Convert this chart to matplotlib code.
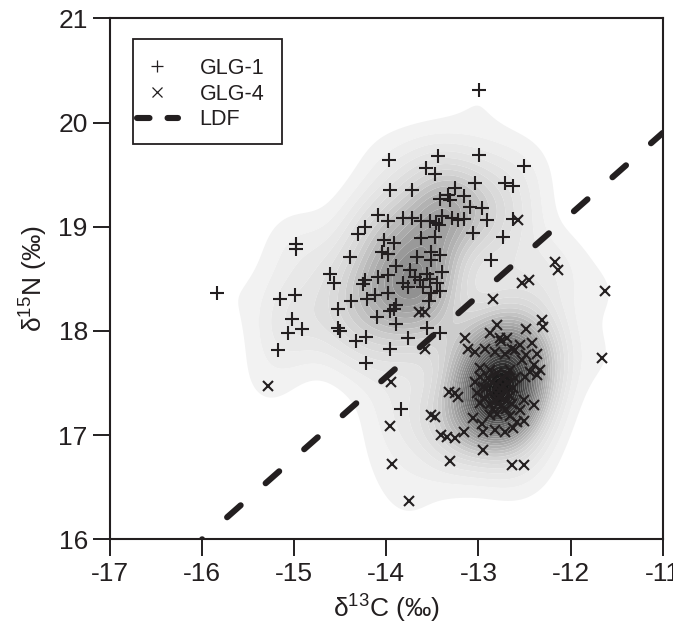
import numpy as np
import matplotlib
matplotlib.use("Agg")
import matplotlib.pyplot as plt
from matplotlib.lines import Line2D
from matplotlib.patches import Rectangle
from matplotlib.colors import LinearSegmentedColormap

plt.rcParams['font.family'] = ['Liberation Sans', 'DejaVu Sans']
plt.rcParams['mathtext.fontset'] = 'custom'
plt.rcParams['mathtext.rm'] = 'Liberation Sans'
plt.rcParams['lines.scale_dashes'] = False

# ---------------- data ----------------
glg1_x = [-12.99, -12.99, -13.97, -13.44, -13.57, -13.47, -12.51, -12.71, -12.63, -13.96,
          -13.72, -13.25, -13.04, -13.33, -13.31, -13.42, -13.16, -13.09, -12.96, -14.09,
          -13.98, -13.82, -13.72, -13.62, -13.53, -13.46, -13.43, -13.40, -13.29, -13.22,
          -13.16, -12.91, -13.06, -14.23, -13.62, -13.47, -14.03, -13.92, -13.98, -14.05,
          -13.67, -13.51, -13.42, -13.51, -13.89, -14.23, -14.09, -13.98, -13.74, -13.69,
          -13.56, -13.53, -13.40, -13.63, -13.82, -13.76, -13.60, -13.45, -13.42, -14.21,
          -14.12, -13.98, -13.89, -12.63, -12.73, -12.86, -14.31, -14.98, -14.98, -14.61,
          -14.57, -14.39, -15.15, -14.99, -15.84, -14.52, -14.52, -14.50, -15.02, -15.07,
          -14.92, -15.18, -14.33, -14.22, -13.96, -13.76, -14.22, -13.56, -13.42, -13.84,
          -14.38, -14.10, -13.90, -13.92, -13.96, -13.54, -13.52, -14.25]
glg1_y = [20.31, 19.69, 19.64, 19.68, 19.56, 19.51, 19.58, 19.42, 19.39, 19.35,
          19.35, 19.37, 19.42, 19.30, 19.26, 19.27, 19.29, 19.19, 19.18, 19.11,
          19.05, 19.08, 19.08, 19.05, 19.05, 19.04, 19.02, 19.10, 19.08, 19.06,
          19.07, 19.06, 18.94, 19.00, 18.89, 18.90, 18.87, 18.84, 18.74, 18.76,
          18.71, 18.76, 18.73, 18.68, 18.62, 18.49, 18.52, 18.54, 18.58, 18.52,
          18.55, 18.50, 18.57, 18.49, 18.46, 18.42, 18.42, 18.46, 18.38, 18.31,
          18.34, 18.36, 18.25, 19.07, 18.90, 18.68, 18.93, 18.83, 18.79, 18.55,
          18.46, 18.71, 18.31, 18.34, 18.36, 18.21, 18.03, 18.00, 18.11, 17.98,
          18.02, 17.82, 17.90, 17.94, 17.83, 17.93, 17.69, 18.03, 17.98, 17.25,
          18.29, 18.13, 18.07, 18.21, 18.19, 18.29, 18.36, 18.45]

glg4_x = [-15.29, -13.95, -13.96, -13.94, -13.75, -13.52, -13.47, -13.41, -13.34, -13.25,
          -13.32, -13.26, -13.22, -13.31, -13.16, -12.95, -12.64, -12.51, -12.84, -12.53,
          -12.45, -12.17, -12.14, -12.57, -11.63, -11.66, -12.31, -12.30, -12.48, -13.65,
          -13.58, -13.58, -13.15, -13.11, -13.04, -12.80, -12.87, -12.77, -12.93, -12.69,
          -12.60, -12.42, -12.37, -12.75, -12.82, -12.71, -12.64, -12.55, -12.48, -12.53,
          -12.40, -12.33, -12.37, -12.44, -12.49, -12.98, -13.04, -12.98, -12.87, -12.95,
          -13.02, -12.98, -12.40, -12.51, -12.55, -13.06, -12.96, -12.87, -12.66, -12.58,
          -12.51, -12.95, -12.82, -12.71, -12.62,
          -12.90, -12.85, -12.80, -12.75, -12.70, -12.78, -12.72, -12.82, -12.86, -12.68,
          -12.74, -12.80, -12.66, -12.76, -12.70, -12.84, -12.62, -12.92, -12.88, -12.64,
          -12.78, -12.73, -12.77, -12.69, -12.60, -12.94, -12.80, -12.66]
glg4_y = [17.47, 17.51, 17.09, 16.72, 16.37, 17.19, 17.17, 17.00, 16.98, 16.97,
          17.41, 17.40, 17.37, 16.75, 17.03, 16.86, 16.71, 16.71, 18.31, 18.46,
          18.49, 18.66, 18.58, 19.06, 18.38, 17.74, 18.10, 18.04, 18.02, 18.18,
          18.18, 17.83, 17.93, 17.83, 17.80, 18.06, 17.98, 17.93, 17.83, 17.93,
          17.82, 17.88, 17.78, 17.90, 17.80, 17.78, 17.83, 17.86, 17.77, 17.72,
          17.67, 17.62, 17.58, 17.61, 17.56, 17.64, 17.51, 17.56, 17.62, 17.46,
          17.40, 17.31, 17.29, 17.34, 17.24, 17.16, 17.11, 17.19, 17.18, 17.13,
          17.14, 17.03, 17.05, 17.03, 17.07,
          17.55, 17.50, 17.48, 17.45, 17.42, 17.38, 17.35, 17.33, 17.40, 17.50,
          17.55, 17.60, 17.38, 17.28, 17.25, 17.25, 17.45, 17.45, 17.30, 17.30,
          17.42, 17.48, 17.36, 17.58, 17.55, 17.36, 17.20, 17.62]

ldf_x = [-16.0, -11.0]
ldf_y = [16.0, 19.9]

x_ticks = [-17, -16, -15, -14, -13, -12, -11]
y_ticks = [16, 17, 18, 19, 20, 21]
labels = ['GLG-1', 'GLG-4', 'LDF']

ink = '#231f20'

# ---------------- figure ----------------
W, H = 673, 633
fig = plt.figure(figsize=(W / 100, H / 100), dpi=100)
ax = fig.add_axes([110 / W, 1 - 539.3 / H, (662.7 - 110) / W, (539.3 - 18.3) / H])

# kernel density of all points
allx = np.array(glg1_x + glg4_x)
ally = np.array(glg1_y + glg4_y)
gx = np.linspace(-17, -11, 400)
gy = np.linspace(16, 21, 400)
GX, GY = np.meshgrid(gx, gy)
hx, hy = 0.27, 0.27
Z = np.zeros_like(GX)
for px, py in zip(allx, ally):
    Z += np.exp(-0.5 * (((GX - px) / hx) ** 2 + ((GY - py) / hy) ** 2))
Z /= Z.max()
levels = np.linspace(0.03, 1.0, 32)
cmap = LinearSegmentedColormap.from_list(
    'g', [(0.0, '#f4f4f4'), (0.2, '#d6d6d6'), (0.45, '#959595'),
          (0.75, '#4a4a4a'), (1.0, '#111111')])
ax.contourf(GX, GY, Z, levels=levels, cmap=cmap, extend='neither', zorder=1, antialiased=True)

# LDF line
ax.plot(ldf_x, ldf_y, color=ink, lw=4.4, dash_capstyle='round',
        linestyle=(13, (13, 24)), zorder=2)

# points
ax.plot(glg1_x, glg1_y, linestyle='none', marker='+', ms=10, mew=1.5, color=ink, zorder=3)
ax.plot(glg4_x, glg4_y, linestyle='none', marker='x', ms=7.0, mew=1.5, color=ink, zorder=3)

ax.set_xlim(-17, -11)
ax.set_ylim(16, 21)
ax.set_xticks(x_ticks)
ax.set_yticks(y_ticks)
ax.set_xticklabels([str(t) for t in x_ticks])
ax.set_yticklabels([str(t) for t in y_ticks])
ax.tick_params(direction='out', length=12, width=1.4, labelsize=19, colors=ink, pad=4)
for s in ax.spines.values():
    s.set_linewidth(1.5)
    s.set_color(ink)

ax.set_xlabel(r'$\mathregular{δ^{13}}$C (‰)', fontsize=19, color=ink, labelpad=5)
ax.set_ylabel(r'$\mathregular{δ^{15}}$N (‰)', fontsize=19, color=ink, labelpad=6)

# legend
handles = [Line2D([], [], linestyle='none', marker='+', ms=9, mew=0.9, color=ink),
           Line2D([], [], linestyle='none', marker='x', ms=6.5, mew=0.9, color=ink),
           Line2D([], [], color=ink, lw=4.4, dash_capstyle='round', linestyle=(0, (9, 13)))]
leg = fig.legend(handles, labels, loc='upper left',
                 bbox_to_anchor=(137 / W, 1 - 58 / H), frameon=False,
                 fontsize=15.5, handlelength=1.9, handletextpad=1.0, labelspacing=0.22,
                 borderpad=0.0, borderaxespad=0.0)
for t in leg.get_texts():
    t.set_color(ink)
fig.patches.append(Rectangle((133 / W, 1 - 143.5 / H), (282 - 133) / W, (143.5 - 39.3) / H,
                             transform=fig.transFigure, fill=False, edgecolor=ink, lw=1.3,
                             zorder=5))

fig.savefig('out.png', dpi=100)
